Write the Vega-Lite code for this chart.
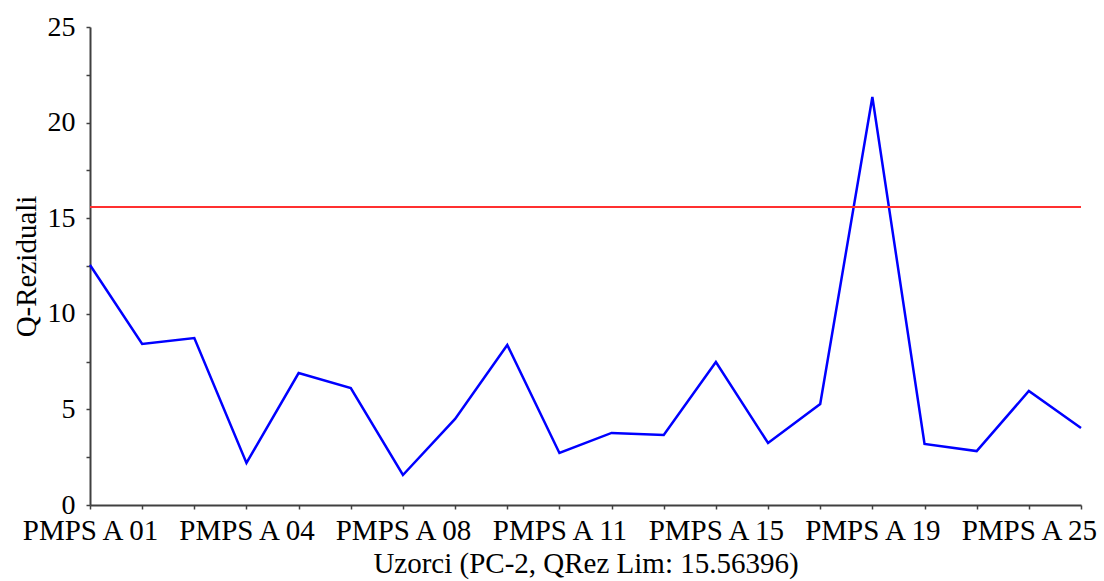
{
  "$schema": "https://vega.github.io/schema/vega-lite/v6.json",
  "autosize": "none",
  "width": 991,
  "height": 478,
  "padding": {"left": 90, "top": 27, "right": 23, "bottom": 76},
  "background": "white",
  "config": {
    "view": {"stroke": null},
    "font": "Liberation Serif",
    "axis": {
      "labelFont": "Liberation Serif",
      "titleFont": "Liberation Serif",
      "labelFontSize": 29,
      "titleFontSize": 29,
      "titleFontWeight": "normal",
      "labelColor": "#000000",
      "titleColor": "#000000",
      "domainColor": "#404040",
      "domainWidth": 2,
      "tickColor": "#404040",
      "tickWidth": 1.5,
      "tickSize": 4,
      "grid": false
    }
  },
  "data": {
    "values": [
      {"sample": "PMPS A 01", "q": 12.55},
      {"sample": "PMPS A 02", "q": 8.42},
      {"sample": "PMPS A 03", "q": 8.73},
      {"sample": "PMPS A 04", "q": 2.2},
      {"sample": "PMPS A 05", "q": 6.9},
      {"sample": "PMPS A 07", "q": 6.12},
      {"sample": "PMPS A 08", "q": 1.57},
      {"sample": "PMPS A 09", "q": 4.5},
      {"sample": "PMPS A 10", "q": 8.37},
      {"sample": "PMPS A 11", "q": 2.72},
      {"sample": "PMPS A 12", "q": 3.77},
      {"sample": "PMPS A 13", "q": 3.66},
      {"sample": "PMPS A 15", "q": 7.48},
      {"sample": "PMPS A 16", "q": 3.24},
      {"sample": "PMPS A 17", "q": 5.28},
      {"sample": "PMPS A 19", "q": 21.34},
      {"sample": "PMPS A 20", "q": 3.19},
      {"sample": "PMPS A 22", "q": 2.82},
      {"sample": "PMPS A 25", "q": 5.96},
      {"sample": "PMPS A 26", "q": 4.03}
    ]
  },
  "layer": [
    {
      "mark": {"type": "line", "color": "#0000ff", "strokeWidth": 2.5},
      "encoding": {
        "x": {
          "field": "sample",
          "type": "ordinal",
          "sort": null,
          "scale": {"type": "point", "padding": 0},
          "axis": {
            "title": "Uzorci (PC-2, QRez Lim: 15.56396)",
            "labelAngle": 0,
            "labelPadding": 7,
            "titlePadding": 4,
            "labelOverlap": false,
            "labelFlush": false,
            "labelExpr": "indexof(['PMPS A 01','PMPS A 04','PMPS A 08','PMPS A 11','PMPS A 15','PMPS A 19','PMPS A 25'], datum.value) >= 0 ? datum.value : ''"
          }
        },
        "y": {
          "field": "q",
          "type": "quantitative",
          "scale": {"domain": [0, 25], "nice": false},
          "axis": {
            "title": "Q-Reziduali",
            "values": [0, 2.5, 5, 7.5, 10, 12.5, 15, 17.5, 20, 22.5, 25],
            "labelExpr": "datum.value % 5 === 0 ? datum.label : ''",
            "labelFontSize": 28,
            "labelPadding": 11,
            "titlePadding": 6,
            "labelFlush": false
          }
        }
      }
    },
    {
      "mark": {"type": "rule", "color": "#ff3030", "strokeWidth": 1.3},
      "encoding": {
        "y": {"datum": 15.56396, "type": "quantitative"}
      }
    }
  ]
}
